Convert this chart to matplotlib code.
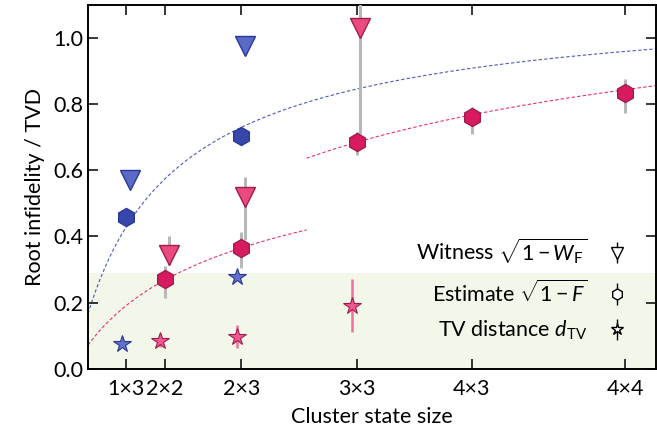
import numpy as np
import matplotlib
matplotlib.use("Agg")
import matplotlib.pyplot as plt

plt.rcParams['font.family'] = ['Lato', 'DejaVu Sans']
plt.rcParams['mathtext.fontset'] = 'custom'
plt.rcParams['mathtext.rm'] = 'Lato'
plt.rcParams['mathtext.it'] = 'Lato:italic'
plt.rcParams['font.size'] = 15.5

# cluster sizes (number of qubits) and their labels
sizes = [3, 4, 6, 9, 12, 16]
size_labels = ['1×3', '2×2', '2×3', '3×3', '4×3', '4×4']

# blue device
blue_x = [3, 6]
blue_witness = [0.57, 0.975]
blue_estimate = [0.46, 0.703]
blue_tvd = [0.075, 0.277]

# pink device
pink_x_short = [4, 6, 9]
pink_x = [4, 6, 9, 12, 16]
pink_witness = [0.345, 0.52, 1.03]
pink_witness_lo = [0.03, 0.13, 0.32]
pink_witness_hi = [0.055, 0.06, 0.12]
pink_estimate = [0.27, 0.364, 0.685, 0.76, 0.833]
pink_estimate_lo = [0.055, 0.06, 0.04, 0.05, 0.06]
pink_estimate_hi = [0.04, 0.05, 0.03, 0.03, 0.043]
pink_tvd = [0.085, 0.097, 0.19]
pink_tvd_err = [0.02, 0.035, 0.08]

# fit curves  y = A - B * n**(-p)
blue_fit = (1.170, 1.687, 0.75)
pink_fit_a = (1.118, 1.288, 0.3)
pink_fit_b = (1.687, 1.938, 0.3)
split_at = 7.7

threshold = 0.29

c_blue_tri, e_blue = '#5a6ac6', '#2a3896'
c_blue_hex = '#3646aa'
c_blue_star = '#6272cc'
c_pink_tri, e_pink = '#ea4a80', '#a01c4c'
c_pink_hex = '#d81b60'
c_pink_star = '#ec5a8e'
c_pink_err = '#f0709c'
c_gray = '#b8b8b8'

def fit(params, n):
    A, B, p = params
    return A - B * n ** (-p)

dx_tri, dx_star = 0.1, -0.12

fig = plt.figure(figsize=(6.57, 4.37), dpi=100)
ax = fig.add_axes([0.134, 0.156, 0.864, 0.833])

ax.axhspan(0, threshold, color='#f2f7ea', zorder=0, lw=0)

# fits
xs = np.linspace(2, 16.8, 300)
ax.plot(xs, fit(blue_fit, xs), '--', color='#4a5ac0', lw=0.8, dashes=(3, 2), zorder=1)
xa = np.linspace(2, split_at, 200)
ax.plot(xa, fit(pink_fit_a, xa), '--', color='#e8306e', lw=0.8, dashes=(3, 2), zorder=1)
xb = np.linspace(split_at, 16.8, 200)
ax.plot(xb, fit(pink_fit_b, xb), '--', color='#e8306e', lw=0.8, dashes=(3, 2), zorder=1)

# blue markers
ax.plot(np.array(blue_x) + dx_tri, blue_witness, 'v', ms=14, mfc=c_blue_tri, mec=e_blue, mew=1, zorder=4)
ax.plot(blue_x, blue_estimate, 'h', ms=13, mfc=c_blue_hex, mec=e_blue, mew=1, zorder=4)
ax.plot(np.array(blue_x) + dx_star, blue_tvd, '*', ms=13, mfc=c_blue_star, mec=e_blue, mew=0.8, zorder=4)

# pink markers with error bars
ax.errorbar(np.array(pink_x_short) + dx_tri, pink_witness, yerr=[pink_witness_lo, pink_witness_hi],
            fmt='v', ms=14, mfc=c_pink_tri, mec=e_pink, mew=1, ecolor=c_gray, elinewidth=2.2, zorder=4)
ax.errorbar(pink_x, pink_estimate, yerr=[pink_estimate_lo, pink_estimate_hi],
            fmt='h', ms=13, mfc=c_pink_hex, mec=e_pink, mew=1, ecolor=c_gray, elinewidth=2.2, zorder=4)
ax.errorbar(np.array(pink_x_short) + dx_star, pink_tvd, yerr=pink_tvd_err,
            fmt='*', ms=13, mfc=c_pink_star, mec=e_pink, mew=0.8, ecolor=c_pink_err, elinewidth=1.8, zorder=4)

# legend handles
h1 = ax.errorbar([np.nan], [np.nan], yerr=[[0.1]], fmt='v', ms=9, mfc='white', mec='black', mew=1,
                 ecolor='black', elinewidth=1, label=r'Witness $\sqrt{1-W_\mathrm{F}}$')
h2 = ax.errorbar([np.nan], [np.nan], yerr=[[0.1]], fmt='h', ms=8, mfc='white', mec='black', mew=1,
                 ecolor='black', elinewidth=1, label=r'Estimate $\sqrt{1-F}$')
h3 = ax.errorbar([np.nan], [np.nan], yerr=[[0.1]], fmt='*', ms=9, mfc='white', mec='black', mew=1,
                 ecolor='black', elinewidth=1, label=r'TV distance $d_\mathrm{TV}$')
ax.legend(handles=[h1, h2, h3], loc='lower right', bbox_to_anchor=(0.985, 0.02), frameon=False,
          markerfirst=False, handlelength=1.0, handletextpad=0.9, labelspacing=0.62, fontsize=15.5)

ax.set_xlim(2, 16.8)
ax.set_ylim(0, 1.1)
ax.set_xticks(sizes)
ax.set_xticklabels(size_labels)
ax.set_yticks([0.0, 0.2, 0.4, 0.6, 0.8, 1.0])
ax.set_yticklabels(['0.0', '0.2', '0.4', '0.6', '0.8', '1.0'])
ax.tick_params(direction='in', top=True, right=True, length=7, width=1.1, labelsize=15.5)
ax.tick_params(axis='x', pad=7)
for s in ax.spines.values():
    s.set_linewidth(1.4)

ax.set_xlabel('Cluster state size', fontsize=15.5, labelpad=6)
ax.set_ylabel('Root infidelity / TVD', fontsize=15.5, labelpad=6)

fig.savefig('out.png', dpi=100)
